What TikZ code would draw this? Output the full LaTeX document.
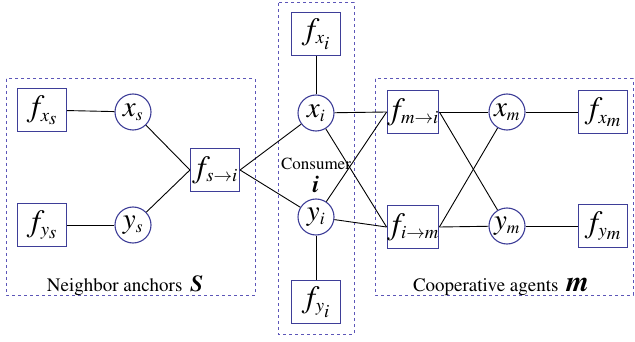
\documentclass[tikz,border=0pt]{standalone}
\usepackage{amsmath}
\usepackage[T1]{fontenc}
\usepackage{mathptmx}
\definecolor{nodeblue}{RGB}{62,62,152}
\definecolor{dashblue}{RGB}{92,86,184}
\usetikzlibrary{positioning}
\newcommand{\fac}[2]{$#1_{\scriptscriptstyle #2}$}

\tikzset{
  fbox/.style={draw=nodeblue,line width=1.1pt,minimum width=49pt,minimum height=43pt,inner sep=0pt,font=\fontsize{31}{33}\selectfont},
  var/.style={circle,draw=nodeblue,line width=1.1pt,minimum size=36pt,inner sep=0pt,font=\fontsize{29}{31}\selectfont},
  group/.style={draw=dashblue,dashed,line width=1pt},
  edge/.style={black,line width=0.9pt}
}

\begin{document}
\begin{tikzpicture}[x=1pt,y=-1pt]
        \useasboundingbox (0,0) rectangle (635,342);
        % groups
        \draw[group] (6,79) rectangle (255,295);
        \draw[group] (278,3) rectangle (354,334);
        \draw[group] (375,79) rectangle (633,295);
        % neighbor anchors
        \node[fbox] (fxs) at (42,110) {\fac{f}{x_s}};
        \node[fbox] (fys) at (42,225) {\fac{f}{y_s}};
        \node[var] (xs) at (133,112) {\fac{x}{s}};
        \node[var] (ys) at (133,225) {\fac{y}{s}};
        \node[fbox] (fsi) at (215,170) {\fac{f}{s\to i}};
        % consumer
        \node[fbox] (fxi) at (316,34) {\fac{f}{x_i}};
        \node[var] (xi) at (316,113) {\fac{x}{i}};
        \node[var] (yi) at (316,217) {\fac{y}{i}};
        \node[fbox] (fyi) at (316,302) {\fac{f}{y_i}};
        % cooperative agents
        \node[fbox] (fmi) at (413,112) {\fac{f}{m\to i}};
        \node[fbox] (fim) at (413,227) {\fac{f}{i\to m}};
        \node[var] (xm) at (507,112) {\fac{x}{m}};
        \node[var] (ym) at (507,226) {\fac{y}{m}};
        \node[fbox] (fxm) at (603,112) {\fac{f}{x_m}};
        \node[fbox] (fym) at (603,226) {\fac{f}{y_m}};
        % labels
        \node[anchor=base,font=\fontsize{19}{21}\selectfont] (lblS) at (125,291) {Neighbor anchors \,{\fontsize{23}{25}\selectfont\bfseries\itshape S}};
        \node[anchor=base,font=\fontsize{17}{19}\selectfont,inner sep=1pt] (lblC) at (316,170) {Consumer};
        \node[anchor=base,font=\fontsize{24}{26}\selectfont\bfseries\itshape,inner sep=0pt] (lblI) at (316,193) {i};
        \node[anchor=base,font=\fontsize{19}{21}\selectfont] (lblM) at (501,291) {Cooperative agents \,{\fontsize{29}{31}\selectfont\bfseries\itshape m}};
        % edges
        \draw[edge] (fxs) -- (xs);
        \draw[edge] (fys) -- (ys);
        \draw[edge] (xs) -- (fsi.west);
        \draw[edge] (ys) -- (fsi.west);
        \draw[edge] (fsi.east) -- (xi);
        \draw[edge] (fsi.east) -- (yi);
        \draw[edge] (fxi) -- (xi);
        \draw[edge] (fyi) -- (yi);
        \draw[edge] (xi) -- (fmi.west);
        \draw[edge] (xi) -- (fim.west);
        \draw[edge] (yi) -- (fmi.west);
        \draw[edge] (yi) -- (fim.west);
        \foreach \f in {fmi,fim} {
          \draw[edge] (\f.east) -- (xm);
          \draw[edge] (\f.east) -- (ym);
        }
        \draw[edge] (xm) -- (fxm);
        \draw[edge] (ym) -- (fym);
      \end{tikzpicture}
\end{document}
